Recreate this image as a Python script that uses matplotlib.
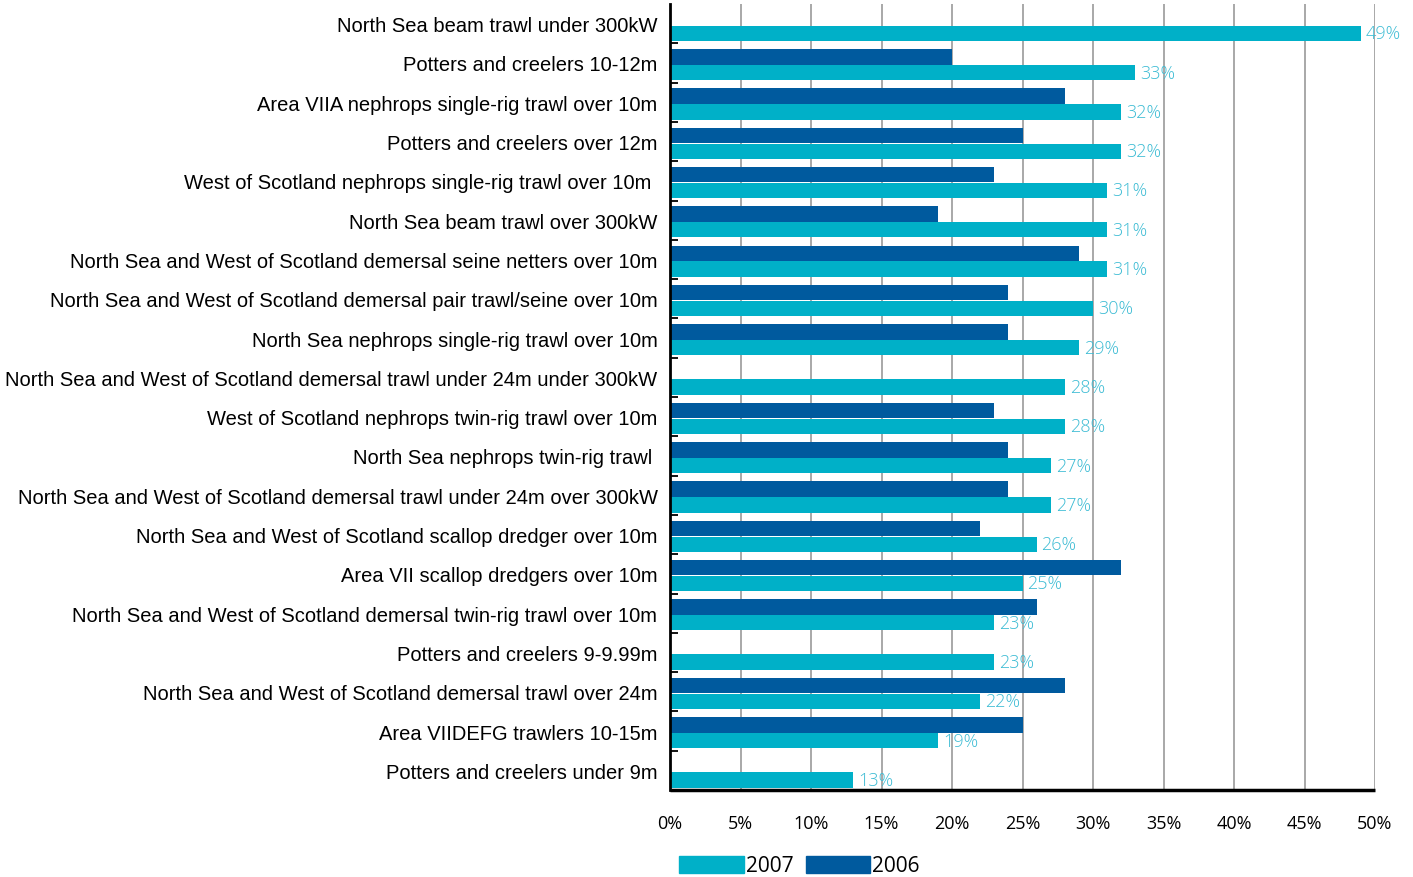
import matplotlib
matplotlib.use("Agg")
import matplotlib.pyplot as plt
import numpy as np
from matplotlib.patches import Patch

categories = [
    "North Sea beam trawl under 300kW",
    "Potters and creelers 10-12m",
    "Area VIIA nephrops single-rig trawl over 10m",
    "Potters and creelers over 12m",
    "West of Scotland nephrops single-rig trawl over 10m ",
    "North Sea beam trawl over 300kW",
    "North Sea and West of Scotland demersal seine netters over 10m",
    "North Sea and West of Scotland demersal pair trawl/seine over 10m",
    "North Sea nephrops single-rig trawl over 10m",
    "North Sea and West of Scotland demersal trawl under 24m under 300kW",
    "West of Scotland nephrops twin-rig trawl over 10m",
    "North Sea nephrops twin-rig trawl ",
    "North Sea and West of Scotland demersal trawl under 24m over 300kW",
    "North Sea and West of Scotland scallop dredger over 10m",
    "Area VII scallop dredgers over 10m",
    "North Sea and West of Scotland demersal twin-rig trawl over 10m",
    "Potters and creelers 9-9.99m",
    "North Sea and West of Scotland demersal trawl over 24m",
    "Area VIIDEFG trawlers 10-15m",
    "Potters and creelers under 9m",
]
values_2007 = [49, 33, 32, 32, 31, 31, 31, 30, 29, 28, 28, 27, 27, 26, 25, 23, 23, 22, 19, 13]
values_2006 = [None, 20, 28, 25, 23, 19, 29, 24, 24, None, 23, 24, 24, 22, 32, 26, None, 28, 25, None]
x_ticks = [0, 5, 10, 15, 20, 25, 30, 35, 40, 45, 50]
x_tick_labels = [f"{t}%" for t in x_ticks]

c2007 = "#00B0C8"
c2006 = "#005A9E"
lab_col = "#3DBCD4"

W, H = 1413, 878
fig = plt.figure(figsize=(W / 100, H / 100), dpi=100)
ax = fig.add_axes([670 / W, 87 / H, (1375 - 670) / W, (873 - 87) / H])

n = len(categories)
y = np.arange(n)
bh = 0.39

y06 = [yy - 0.155 for yy, v in zip(y, values_2006) if v is not None]
v06 = [v for v in values_2006 if v is not None]
ax.barh(y06, v06, height=bh, color=c2006, zorder=3)
ax.barh(y + 0.245, values_2007, height=bh, color=c2007, zorder=3)

for yy, v in zip(y, values_2007):
    ax.text(v + 0.35, yy + 0.245, f"{v}%", color=lab_col, fontsize=13,
            family="Open Sans", fontweight="light", va="center", ha="left", zorder=4)

ax.set_ylim(n - 0.5, -0.5)
ax.set_xlim(0, 50)
ax.set_yticks(y)
ax.set_yticklabels(categories, family="Liberation Sans", fontsize=14.5)
ax.tick_params(axis="y", length=0, pad=9)
ax.set_yticks(np.arange(0.5, n - 0.5, 1), minor=True)
ax.tick_params(axis="y", which="minor", direction="in", length=6, width=1.3, color="black")

ax.set_xticks(x_ticks)
ax.set_xticklabels(x_tick_labels, family="Open Sans", fontsize=13)
ax.tick_params(axis="x", length=0, pad=17)

ax.grid(axis="x", color="#A8A8A8", linewidth=1.4, zorder=0)
ax.set_axisbelow(True)
for s in ["top", "right"]:
    ax.spines[s].set_visible(False)
ax.spines["left"].set_linewidth(2)
ax.spines["bottom"].set_linewidth(2.5)
ax.spines["bottom"].set_capstyle("butt")
ax.spines["left"].set_zorder(5)
ax.spines["bottom"].set_zorder(5)

handles = [Patch(color=c2007, label="2007"), Patch(color=c2006, label="2006")]
fig.legend(handles=handles, loc="lower left", bbox_to_anchor=(679 / W, 0.5 / H),
           ncol=2, frameon=False, prop={"family": "Open Sans", "size": 15},
           handlelength=3.1, handleheight=0.9, handletextpad=0.1,
           columnspacing=0.6, borderpad=0, borderaxespad=0)

fig.savefig("out.png", dpi=100)
